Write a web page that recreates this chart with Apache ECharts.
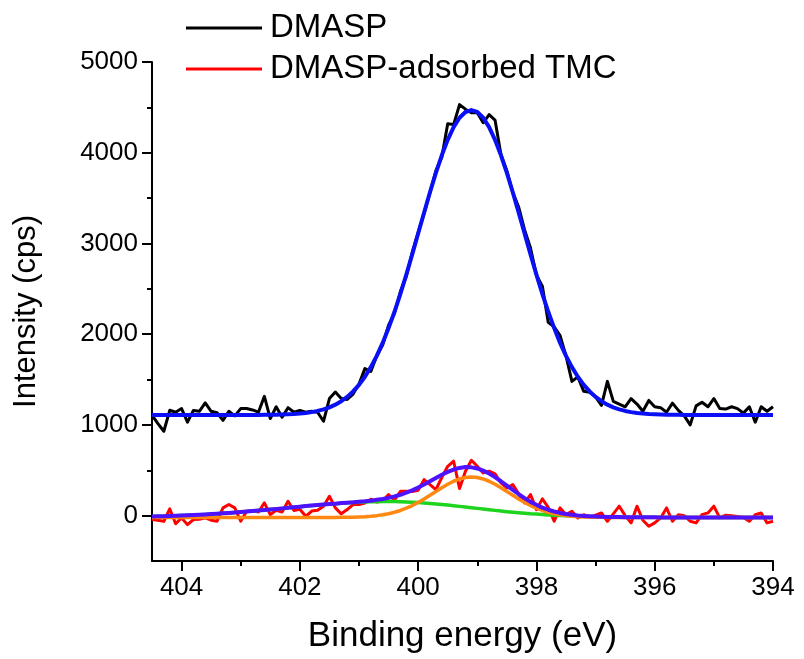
<!DOCTYPE html>
<html>
<head>
<meta charset="utf-8">
<script src="https://cdn.jsdelivr.net/npm/echarts@6/dist/echarts.min.js"></script>
<style>
html,body{margin:0;padding:0;background:#fff;}
#chart{width:804px;height:659px;}
</style>
</head>
<body>
<div id="chart"></div>
<script>
// Binding energy grid (eV)
const energy = [
404.5,404.4,404.3,404.2,404.1,404.0,403.9,403.8,403.7,403.6,
403.5,403.4,403.3,403.2,403.1,403.0,402.9,402.8,402.7,402.6,
402.5,402.4,402.3,402.2,402.1,402.0,401.9,401.8,401.7,401.6,
401.5,401.4,401.3,401.2,401.1,401.0,400.9,400.8,400.7,400.6,
400.5,400.4,400.3,400.2,400.1,400.0,399.9,399.8,399.7,399.6,
399.5,399.4,399.3,399.2,399.1,399.0,398.9,398.8,398.7,398.6,
398.5,398.4,398.3,398.2,398.1,398.0,397.9,397.8,397.7,397.6,
397.5,397.4,397.3,397.2,397.1,397.0,396.9,396.8,396.7,396.6,
396.5,396.4,396.3,396.2,396.1,396.0,395.9,395.8,395.7,395.6,
395.5,395.4,395.3,395.2,395.1,395.0,394.9,394.8,394.7,394.6,
394.5,394.4,394.3,394.2,394.1,394.0];

// DMASP raw spectrum (cps)
const dmasp = [
1107,1015,930,1161,1140,1180,1030,1160,1150,1242,
1150,1135,1050,1150,1100,1180,1180,1165,1140,1315,
1070,1200,1085,1190,1140,1160,1140,1150,1140,1040,
1290,1363,1290,1280,1340,1450,1620,1590,1760,1880,
2100,2230,2470,2640,2900,3120,3330,3560,3800,3950,
4320,4310,4530,4480,4440,4440,4330,4420,4360,3980,
3800,3560,3400,3150,2950,2650,2530,2130,2080,1985,
1760,1480,1530,1370,1360,1310,1216,1480,1260,1230,
1200,1290,1230,1150,1270,1200,1190,1140,1240,1160,
1100,1000,1210,1250,1200,1290,1180,1175,1200,1180,
1130,1200,1030,1200,1150,1200];

// DMASP fitted envelope
const dmaspFit = [
1110,1110,1110,1110,1110,1110,1110,1110,1110,1110,
1110,1110,1110,1110,1110,1110,1110,1110,1110,1111,
1112,1113,1115,1117,1120,1125,1132,1141,1154,1171,
1194,1223,1261,1309,1369,1442,1531,1637,1761,1904,
2067,2247,2445,2657,2880,3109,3339,3564,3778,3972,
4142,4282,4385,4449,4470,4449,4385,4282,4142,3972,
3778,3564,3339,3109,2880,2657,2445,2247,2067,1904,
1761,1637,1531,1442,1369,1309,1261,1223,1194,1171,
1154,1141,1132,1125,1120,1117,1115,1113,1112,1111,
1110,1110,1110,1110,1110,1110,1110,1110,1110,1110,
1110,1110,1110,1110,1110,1110];

// DMASP-adsorbed TMC raw spectrum (cps)
const tmc = [
-43,-50,-62,75,-90,-25,-99,-43,-40,-25,
-50,-62,85,122,85,-62,48,55,40,140,
11,60,40,158,56,70,-7,50,60,104,
214,85,20,67,122,122,140,181,150,160,
232,170,269,269,265,280,397,342,287,420,
544,600,300,489,610,544,471,490,460,361,
305,342,240,140,232,66,185,90,-62,85,
11,48,-25,10,-20,5,30,-62,20,104,
0,-80,104,-50,-117,-80,-25,85,-62,10,
0,-62,-80,11,30,104,-25,5,0,-10,
-20,-62,10,30,-80,-62];

// TMC fitted envelope
const tmcFit = [
-9,-7,-6,-4,-1,1,4,7,10,13,
17,21,25,30,34,39,45,50,56,62,
68,74,80,86,92,99,105,111,116,122,
127,132,138,143,147,153,158,165,174,184,
196,212,230,253,279,310,344,380,416,451,
482,508,526,535,532,520,496,464,424,379,
331,283,236,193,152,119,89,65,46,30,
18,9,2,-3,-7,-10,-12,-14,-15,-16,
-17,-17,-18,-18,-19,-19,-20,-20,-20,-20,
-20,-20,-20,-20,-20,-20,-20,-20,-20,-20,
-20,-20,-20,-20,-20,-20];

// TMC component peak (orange, ~399.1 eV)
const tmcPeakA = [
-20,-20,-20,-20,-20,-20,-20,-20,-20,-20,
-20,-20,-20,-20,-20,-20,-20,-20,-20,-20,
-20,-20,-20,-20,-20,-20,-20,-20,-20,-20,
-20,-20,-19,-18,-17,-15,-12,-7,0,9,
21,37,57,82,111,146,184,225,267,308,
346,379,404,420,425,420,404,379,346,308,
267,225,184,146,111,82,57,37,21,9,
0,-7,-12,-15,-17,-18,-19,-20,-20,-20,
-20,-20,-20,-20,-20,-20,-20,-20,-20,-20,
-20,-20,-20,-20,-20,-20,-20,-20,-20,-20,
-20,-20,-20,-20,-20,-20];

// TMC component peak (green, broad ~400.5 eV)
const tmcPeakB = [
-9,-7,-6,-4,-1,1,4,7,10,13,
17,21,25,30,34,39,45,50,56,62,
68,74,80,86,92,99,105,111,116,122,
127,132,137,141,144,148,150,152,154,155,
155,155,153,151,148,144,140,135,129,123,
116,109,102,95,87,80,72,65,58,51,
44,38,32,27,21,17,12,8,5,1,
-2,-4,-6,-8,-10,-12,-13,-14,-15,-16,
-17,-17,-18,-18,-19,-19,-20,-20,-20,-20,
-20,-20,-20,-20,-20,-20,-20,-20,-20,-20,
-20,-20,-20,-20,-20,-20];

const xMajorTicks = [394,396,398,400,402,404];
const xMinorTicks = [395,397,399,401,403];
const yMajorTicks = [0,1000,2000,3000,4000,5000];
const yMinorTicks = [500,1500,2500,3500,4500];

const pair = arr => energy.map((e, i) => [e, arr[i]]);
const FONT = 'Liberation Sans, Arial, sans-serif';

const chart = echarts.init(document.getElementById('chart'), null, {renderer: 'canvas'});

function lineSeries(name, arr, color, width, z) {
  return {
    name: name, type: 'line', data: pair(arr), showSymbol: false, symbol: 'none',
    xAxisIndex: 0, yAxisIndex: 0, z: z,
    lineStyle: {color: color, width: width, join: 'round'},
    itemStyle: {color: color},
    emphasis: {disabled: true}
  };
}

const option = {
  animation: false,
  backgroundColor: '#ffffff',
  grid: {left: 152, right: 31, top: 62, bottom: 96, containLabel: false},
  legend: {
    orient: 'vertical', left: 186, top: 11, padding: 0,
    itemWidth: 76, itemHeight: 3, itemGap: 7, icon: 'rect',
    data: ['DMASP', 'DMASP-adsorbed TMC'],
    textStyle: {fontSize: 33, fontFamily: FONT, color: '#000', lineHeight: 34, padding: [0,0,0,3]}
  },
  xAxis: [{
    type: 'value', min: 394, max: 404.5, inverse: true,
    name: 'Binding energy (eV)', nameLocation: 'middle', nameGap: 58,
    nameTextStyle: {fontSize: 35, fontFamily: FONT, color: '#000'},
    axisLine: {show: true, onZero: false, lineStyle: {color: '#000', width: 2}},
    axisTick: {show: true, length: 10, customValues: xMajorTicks, lineStyle: {color: '#000', width: 2}},
    axisLabel: {show: true, customValues: xMajorTicks, margin: 14, fontSize: 26, fontFamily: FONT, color: '#000',
      formatter: v => String(v)},
    splitLine: {show: false}
  }, {
    type: 'value', min: 394, max: 404.5, inverse: true, position: 'bottom',
    axisLine: {show: false, onZero: false},
    axisTick: {show: true, length: 5, customValues: xMinorTicks, lineStyle: {color: '#000', width: 2}},
    axisLabel: {show: false},
    splitLine: {show: false}
  }],
  yAxis: [{
    type: 'value', min: -500, max: 5000,
    name: 'Intensity (cps)', nameLocation: 'middle', nameGap: 110, nameRotate: 90,
    nameTextStyle: {fontSize: 31, fontFamily: FONT, color: '#000'},
    axisLine: {show: true, onZero: false, lineStyle: {color: '#000', width: 2}},
    axisTick: {show: true, length: 10, customValues: yMajorTicks, lineStyle: {color: '#000', width: 2}},
    axisLabel: {show: true, customValues: yMajorTicks, margin: 14, fontSize: 26, fontFamily: FONT, color: '#000',
      formatter: v => String(v)},
    splitLine: {show: false}
  }, {
    type: 'value', min: -500, max: 5000, position: 'left',
    axisLine: {show: false, onZero: false},
    axisTick: {show: true, length: 5, customValues: yMinorTicks, lineStyle: {color: '#000', width: 2}},
    axisLabel: {show: false},
    splitLine: {show: false}
  }],
  series: [
    lineSeries('DMASP', dmasp, '#000000', 3, 2),
    lineSeries('DMASP fit', dmaspFit, '#0a10f5', 4, 3),
    lineSeries('DMASP-adsorbed TMC', tmc, '#ff0000', 3, 2),
    lineSeries('TMC peak B', tmcPeakB, '#1ed41e', 3.5, 3),
    lineSeries('TMC peak A', tmcPeakA, '#ff8812', 3.5, 4),
    lineSeries('TMC fit', tmcFit, '#4f12ff', 4, 5)
  ]
};
chart.setOption(option);
</script>
</body>
</html>
